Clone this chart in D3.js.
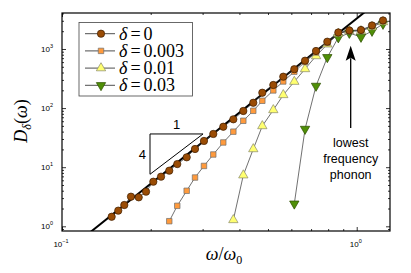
<!DOCTYPE html>
<html>
<head>
<meta charset="utf-8">
<script src="https://cdn.jsdelivr.net/npm/d3@7"></script>
<style>
body { margin: 0; background: #fff; }
svg { display: block; }
.tick-label { font-family: "Liberation Sans", Arial, sans-serif; font-size: 8px; }
.tex { font-family: "Liberation Serif", "Times New Roman", serif; }
</style>
</head>
<body>
<div id="viz"></div>
<script>

// frequency bins (omega / omega_0), shared by every series
var omega = [0.1474, 0.1552, 0.1627, 0.1714, 0.1821, 0.1928, 0.2041, 0.2168, 0.2312, 0.2461,
             0.2649, 0.2827, 0.3032, 0.3261, 0.3526, 0.3814, 0.4123, 0.4457, 0.4783, 0.5212,
             0.5634, 0.6141, 0.6679, 0.7277, 0.7948, 0.8661, 0.9439, 1.034, 1.127, 1.228];

// D_delta(omega) for each delta, starting at bin index in "start"
var d_0     = [1.45, 1.84, 2.29, 3.17, 3.09, 3.85, 5.68, 6.91, 8.73, 11.3,
               14.7, 20.3, 27.8, 36.5, 48.4, 64.6, 89.3, 123, 182, 246,
               340, 455, 634, 925, 1329, 1901, 2056, 2097, 2500, 3036];
var d_0003  = [1.22, 2.22, 3.99, 6.69, 10.5, 16.4, 26.2, 39.9, 61.0, 90.0,
               133, 199, 282, 413, 603, 873, 1264, 1865, 2017, 2056, 2448, 2979];
var d_001   = [1.28, 7.32, 20.3, 49.8, 92.9, 167, 280, 459, 761, 1201,
               1829, 2017, 2017, 2357, 2863];
var d_003   = [2.41, 44.3, 237, 724, 1565, 1865, 1596, 2017, 2648];

var seriesNames = ["0", "0.003", "0.01", "0.03"];
var seriesData  = [d_0, d_0003, d_001, d_003];
var seriesStart = [0, 8, 15, 21];

var xTickMajor = [0.1, 1];
var xTickExp   = ["\u22121", "0"];
var yTickMajor = [1, 10, 100, 1000];
var yTickExp   = ["0", "1", "2", "3"];

var W = 411, H = 273;
var L = 62, R = 390, T = 13, B = 231;

var x = d3.scaleLog().domain([0.1, 1.297]).range([L, R]);
var y = d3.scaleLog().domain([0.8326, 4064]).range([B, T]);

var svg = d3.select("#viz").append("svg")
    .attr("width", W).attr("height", H);

svg.append("clipPath").attr("id", "clip")
  .append("rect").attr("x", L).attr("y", T).attr("width", R - L).attr("height", B - T);

// minor ticks: 2..9 in every decade inside domain
function minorTicks(scale) {
    return scale.ticks().filter(function(v) {
        var l = Math.log10(v);
        return Math.abs(l - Math.round(l)) > 1e-6;
    });
}
var xMinor = minorTicks(x), yMinor = minorTicks(y);

function addAxis(gen, tx, ty) {
    svg.append("g").attr("transform", "translate(" + tx + "," + ty + ")")
        .call(gen)
        .call(function(g) {
            g.select(".domain").remove();
            g.selectAll("text").remove();
            g.selectAll("line").attr("stroke", "#000").attr("stroke-width", 0.8);
        });
}
[[xMinor, 2], [xTickMajor, 4]].forEach(function(p) {
    addAxis(d3.axisBottom(x).tickValues(p[0]).tickSize(-p[1]).tickFormat(""), 0, B);
    addAxis(d3.axisTop(x).tickValues(p[0]).tickSize(-p[1]).tickFormat(""), 0, T);
});
[[yMinor, 2], [yTickMajor, 4]].forEach(function(p) {
    addAxis(d3.axisLeft(y).tickValues(p[0]).tickSize(-p[1]).tickFormat(""), L, 0);
    addAxis(d3.axisRight(y).tickValues(p[0]).tickSize(-p[1]).tickFormat(""), R, 0);
});

// tick labels 10^n
xTickMajor.forEach(function(v, i) {
    var t = svg.append("text").attr("class", "tick-label")
        .attr("x", x(v) - 1).attr("y", 247).attr("text-anchor", "middle");
    t.append("tspan").text("10");
    t.append("tspan").attr("dy", -4).attr("font-size", "5.5px").text(xTickExp[i]);
});
yTickMajor.forEach(function(v, i) {
    var t = svg.append("text").attr("class", "tick-label")
        .attr("x", 53).attr("y", y(v) + 3).attr("text-anchor", "end");
    t.append("tspan").text("10");
    t.append("tspan").attr("dy", -4).attr("font-size", "5.5px").text(yTickExp[i]);
});

var plot = svg.append("g").attr("clip-path", "url(#clip)");

// omega^4 reference line
var A = 3280;
var lineW = [0.1, 1.4];
plot.append("path")
    .attr("d", d3.line().x(function(w) { return x(w); }).y(function(w) { return y(A * Math.pow(w, 4)); })(lineW))
    .attr("stroke", "#000").attr("stroke-width", 2).attr("fill", "none");

// slope triangle
var tri = [[0.1989, 7.59], [0.1989, 36.5], [0.301, 36.5]];
plot.append("path")
    .attr("d", d3.line().x(function(p) { return x(p[0]); }).y(function(p) { return y(p[1]); })(tri) + "Z")
    .attr("fill", "none").attr("stroke", "#000").attr("stroke-width", 1);
svg.append("text").attr("x", x(0.245)).attr("y", y(36.5) - 5)
    .attr("text-anchor", "middle").attr("font-family", "Liberation Sans, Arial, sans-serif")
    .attr("font-size", "13px").text("1");
svg.append("text").attr("x", x(0.1989) - 4).attr("y", y(16.5) + 5)
    .attr("text-anchor", "end").attr("font-family", "Liberation Sans, Arial, sans-serif")
    .attr("font-size", "13px").text("4");

var fills   = ["#9a4c05", "#ff9a3c", "#ffff70", "#4f8f07"];
var strokes = ["#3d1d00", "#6f6f6f", "#8a8a6a", "#2c4d00"];
var shapes  = [d3.symbolCircle, d3.symbolSquare, d3.symbolTriangle, d3.symbolTriangle];
var sizes   = [42, 30, 38, 38];
var rot     = [0, 0, 0, 180];

function symbolPath(i) { return d3.symbol().type(shapes[i]).size(sizes[i])(); }

// draw series back to front so delta=0 sits underneath
[3, 2, 1, 0].forEach(function(i) {
    var ws = omega.slice(seriesStart[i], seriesStart[i] + seriesData[i].length);
    var pts = seriesData[i].map(function(d, k) { return [ws[k], d]; });
    svg.append("path")
        .attr("d", d3.line().x(function(p) { return x(p[0]); }).y(function(p) { return y(p[1]); })(pts))
        .attr("fill", "none").attr("stroke", "#333").attr("stroke-width", 0.7);
});
[3, 2, 1, 0].forEach(function(i) {
    var ws = omega.slice(seriesStart[i], seriesStart[i] + seriesData[i].length);
    svg.append("g").selectAll("path")
        .data(seriesData[i])
        .enter().append("path")
        .attr("d", symbolPath(i))
        .attr("transform", function(d, k) {
            return "translate(" + x(ws[k]) + "," + y(d) + ") rotate(" + rot[i] + ")";
        })
        .attr("fill", fills[i]).attr("stroke", strokes[i]).attr("stroke-width", 0.7);
});

// legend
var lg = svg.append("g");
lg.append("rect").attr("x", 79).attr("y", 22.5).attr("width", 113.5).attr("height", 73.5)
    .attr("fill", "#fff").attr("stroke", "#444").attr("stroke-width", 0.8);
seriesNames.forEach(function(name, i) {
    var ry = 33.7 + i * 17.2;
    lg.append("line").attr("x1", 85).attr("x2", 115).attr("y1", ry).attr("y2", ry)
        .attr("stroke", "#222").attr("stroke-width", 0.8);
    lg.append("path").attr("d", symbolPath(i))
        .attr("transform", "translate(101," + ry + ") rotate(" + rot[i] + ")")
        .attr("fill", fills[i]).attr("stroke", strokes[i]).attr("stroke-width", 0.7);
    var t = lg.append("text").attr("class", "tex").attr("y", ry + 6).attr("font-size", "18px");
    t.append("tspan").attr("x", 119).attr("font-style", "italic").text("\u03b4");
    t.append("tspan").attr("x", 130.5).text("=");
    t.append("tspan").attr("x", 143.5).text(name);
});

// arrow to the lowest phonon
var aw = 0.954;
svg.append("line").attr("x1", x(aw)).attr("x2", x(aw)).attr("y1", y(46)).attr("y2", y(700))
    .attr("stroke", "#000").attr("stroke-width", 1.3);
var tipY = y(1137), ax = x(aw);
svg.append("path")
    .attr("d", "M" + ax + "," + tipY + " L" + (ax + 5) + "," + (tipY + 15) + " L" + ax + "," + (tipY + 12) +
               " L" + (ax - 5) + "," + (tipY + 15) + "Z")
    .attr("fill", "#000");
["lowest", "frequency", "phonon"].forEach(function(s, i) {
    svg.append("text").attr("x", ax).attr("y", 147.3 + i * 15.7)
        .attr("text-anchor", "middle").attr("font-family", "Liberation Sans, Arial, sans-serif")
        .attr("font-size", "12.5px").text(s);
});

// frame
svg.append("rect").attr("x", L).attr("y", T).attr("width", R - L).attr("height", B - T)
    .attr("fill", "none").attr("stroke", "#000").attr("stroke-width", 1.2);

// axis labels
var xl = svg.append("text").attr("class", "tex").attr("x", 224).attr("y", 260)
    .attr("text-anchor", "middle").attr("font-size", "18px");
xl.append("tspan").attr("font-style", "italic").text("\u03c9");
xl.append("tspan").text("/");
xl.append("tspan").attr("font-style", "italic").text("\u03c9");
xl.append("tspan").attr("font-size", "12px").attr("dy", 4).text("0");

var yl = svg.append("text").attr("class", "tex")
    .attr("transform", "translate(27,121) rotate(-90)")
    .attr("text-anchor", "middle").attr("font-size", "18px");
yl.append("tspan").attr("font-style", "italic").text("D");
yl.append("tspan").attr("font-style", "italic").attr("font-size", "12px").attr("dy", 4).text("\u03b4");
yl.append("tspan").attr("dy", -4).text("(");
yl.append("tspan").attr("font-style", "italic").text("\u03c9");
yl.append("tspan").text(")");

</script>
</body>
</html>
